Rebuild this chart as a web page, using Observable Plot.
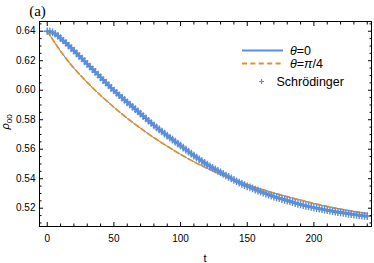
<!DOCTYPE html>
<html><head><meta charset="utf-8">
<script src="https://cdn.jsdelivr.net/npm/d3@7"></script>
<script src="https://cdn.jsdelivr.net/npm/@observablehq/plot@0.6"></script>
<style>html,body{margin:0;padding:0;background:#fff} svg{display:block}</style>
</head><body><div id="chart"></div>
<script>
// ---- data ----
const tGrid = [0,5,10,15,20,25,30,35,40,45,50,55,60,65,70,75,80,85,90,95,100,105,110,115,120,125,130,135,140,145,150,155,160,165,170,175,180,185,190,195,200,205,210,215,220,225,230,235,240];
const rhoTheta0 = [0.6400,0.6388,0.6352,0.6312,0.6269,0.6224,0.6178,0.6133,0.6088,0.6043,0.5998,0.5958,0.5919,0.5880,0.5840,0.5800,0.5762,0.5727,0.5693,0.5659,0.5625,0.5591,0.5557,0.5526,0.5496,0.5469,0.5444,0.5417,0.5392,0.5370,0.5349,0.5331,0.5313,0.5296,0.5279,0.5265,0.5252,0.5238,0.5225,0.5214,0.5204,0.5195,0.5186,0.5178,0.5171,0.5164,0.5157,0.5151,0.5146];
const tSchrodinger = [0,2,4,6,8,10,12,14,16,18,20,22,24,26,28,30,32,34,36,38,40,42,44,46,48,50,52,54,56,58,60,62,64,66,68,70,72,74,76,78,80,82,84,86,88,90,92,94,96,98,100,102,104,106,108,110,112,114,116,118,120,122,124,126,128,130,132,134,136,138,140,142,144,146,148,150,152,154,156,158,160,162,164,166,168,170,172,174,176,178,180,182,184,186,188,190,192,194,196,198,200,202,204,206,208,210,212,214,216,218,220,222,224,226,228,230,232,234,236,238,240];
const rhoSchrodinger = [0.6400,0.6398,0.6392,0.6383,0.6369,0.6353,0.6337,0.6320,0.6303,0.6286,0.6268,0.6250,0.6232,0.6215,0.6197,0.6179,0.6160,0.6142,0.6124,0.6106,0.6087,0.6069,0.6051,0.6034,0.6016,0.5998,0.5982,0.5966,0.5950,0.5934,0.5918,0.5903,0.5887,0.5872,0.5856,0.5841,0.5825,0.5809,0.5793,0.5778,0.5762,0.5748,0.5734,0.5720,0.5706,0.5692,0.5678,0.5665,0.5651,0.5638,0.5624,0.5611,0.5597,0.5584,0.5570,0.5557,0.5544,0.5531,0.5519,0.5507,0.5495,0.5484,0.5473,0.5463,0.5453,0.5443,0.5433,0.5422,0.5412,0.5402,0.5392,0.5383,0.5374,0.5365,0.5356,0.5348,0.5341,0.5334,0.5326,0.5319,0.5312,0.5305,0.5298,0.5292,0.5285,0.5279,0.5273,0.5268,0.5262,0.5257,0.5251,0.5246,0.5241,0.5235,0.5230,0.5225,0.5221,0.5216,0.5212,0.5208,0.5204,0.5200,0.5197,0.5193,0.5190,0.5186,0.5183,0.5180,0.5177,0.5174,0.5171,0.5168,0.5165,0.5162,0.5160,0.5157,0.5155,0.5152,0.5150,0.5148,0.5146];
const tPi4 = [0,10,20,30,40,50,60,70,80,90,100,110,120,130,140,150,160,170,180,190,200,210,220,230,240];
const rhoThetaPi4 = [0.6400,0.6265,0.6150,0.6053,0.5965,0.5885,0.5810,0.5742,0.5678,0.5620,0.5565,0.5515,0.5470,0.5430,0.5395,0.5360,0.5330,0.5303,0.5278,0.5255,0.5232,0.5212,0.5194,0.5178,0.5163];
const xMajorTicks = [0,50,100,150,200];
const xMinorTicks = [10,20,30,40,60,70,80,90,110,120,130,140,160,170,180,190,210,220,230,240];
const yMajorTicks = [0.52,0.54,0.56,0.58,0.60,0.62,0.64];
const yTickLabels = ["0.52","0.54","0.56","0.58","0.60","0.62","0.64"];
const yMinorTicks = [0.51,0.515,0.525,0.53,0.535,0.545,0.55,0.555,0.565,0.57,0.575,0.585,0.59,0.595,0.605,0.61,0.615,0.625,0.63,0.635,0.645];
const seriesNames = ["θ=0", "θ=π/4", "Schrödinger"];
const panelLabel = "(a)";
const xLabel = "t";

const blue = "#5b8edc";
const orange = "#de9130";

const theta0 = tGrid.map((t, i) => ({t, rho: rhoTheta0[i]}));
const schr = tSchrodinger.map((t, i) => ({t, rho: rhoSchrodinger[i]}));
const pi4 = tPi4.map((t, i) => ({t, rho: rhoThetaPi4[i]}));
const yFmt = d => yTickLabels[yMajorTicks.findIndex(v => Math.abs(v - d) < 1e-9)];
const blank = () => "";

const plot = Plot.plot({
  width: 374, height: 263,
  marginLeft: 39, marginRight: 3, marginTop: 21, marginBottom: 37,
  style: {fontFamily: "'Liberation Sans', Arial, sans-serif", fontSize: "10px", background: "white", color: "black"},
  x: {domain: [-5.8, 243.2]},
  y: {domain: [0.5076, 0.6466]},
  marks: [
    Plot.line(theta0, {x: "t", y: "rho", stroke: blue, strokeWidth: 3, curve: "natural"}),
    Plot.line(pi4, {x: "t", y: "rho", stroke: blue, strokeWidth: 1, curve: "natural"}),
    Plot.line(pi4, {x: "t", y: "rho", stroke: orange, strokeWidth: 1.8, strokeDasharray: "5,3", curve: "natural"}),
    Plot.dot(schr, {x: "t", y: "rho", symbol: "plus", r: 2.6, stroke: blue, strokeWidth: 1.4}),
    Plot.axisX(xMajorTicks, {anchor: "bottom", tickSize: -4, tickPadding: 12.5, label: null}),
    Plot.axisX(xMinorTicks, {anchor: "bottom", tickSize: -2.5, tickFormat: blank, label: null}),
    Plot.axisX(xMajorTicks, {anchor: "top", tickSize: -4, tickFormat: blank, label: null}),
    Plot.axisX(xMinorTicks, {anchor: "top", tickSize: -2.5, tickFormat: blank, label: null}),
    Plot.axisY(yMajorTicks, {anchor: "left", tickSize: -4, tickPadding: 8, tickFormat: yFmt, label: null}),
    Plot.axisY(yMinorTicks, {anchor: "left", tickSize: -2.5, tickFormat: blank, label: null}),
    Plot.axisY(yMajorTicks, {anchor: "right", tickSize: -4, tickFormat: blank, label: null}),
    Plot.axisY(yMinorTicks, {anchor: "right", tickSize: -2.5, tickFormat: blank, label: null}),
    Plot.frame({stroke: "black", strokeWidth: 1})
  ]
});
document.getElementById("chart").appendChild(plot);

// ---- annotations: panel label, axis labels, legend ----
const svg = d3.select(plot);
const sans = "'Liberation Sans', Arial, sans-serif";
svg.append("text").attr("x", 37.5).attr("y", 16).attr("text-anchor", "middle")
  .attr("font-family", "'Liberation Serif', 'Times New Roman', serif").attr("font-size", 15)
  .attr("fill", "black").text(panelLabel);
svg.append("text").attr("x", 205).attr("y", 262).attr("text-anchor", "middle")
  .attr("font-family", sans).attr("font-size", 11).attr("fill", "black").text(xLabel);
const yl = svg.append("text").attr("transform", "translate(9,122) rotate(-90)")
  .attr("text-anchor", "middle").attr("font-family", sans).attr("font-size", 11).attr("fill", "black");
yl.append("tspan").attr("font-style", "italic").text("ρ");
yl.append("tspan").attr("dy", 3).attr("font-size", 8).text("00");

const lg = svg.append("g").attr("font-family", sans).attr("font-size", 12.5)
  .attr("fill", "black").attr("text-anchor", "start");
lg.append("line").attr("x1", 242).attr("x2", 283).attr("y1", 50.5).attr("y2", 50.5)
  .attr("stroke", blue).attr("stroke-width", 2);
lg.append("line").attr("x1", 242).attr("x2", 283).attr("y1", 63.5).attr("y2", 63.5)
  .attr("stroke", orange).attr("stroke-width", 1.8).attr("stroke-dasharray", "5,3.4");
lg.append("path").attr("d", "M259,81.5h5M261.5,79v5").attr("stroke", blue).attr("stroke-width", 1.2);
function legText(y, s) {
  const t = lg.append("text").attr("x", 290).attr("y", y).attr("text-anchor", "start");
  for (const ch of s) {
    const isGreek = /[θπ]/.test(ch);
    t.append("tspan").attr("font-style", isGreek ? "italic" : "normal").text(ch);
  }
}
legText(55, seriesNames[0]);
legText(68, seriesNames[1]);
lg.append("text").attr("x", 276.5).attr("y", 86).attr("text-anchor", "start").text(seriesNames[2]);
</script>
</body></html>
